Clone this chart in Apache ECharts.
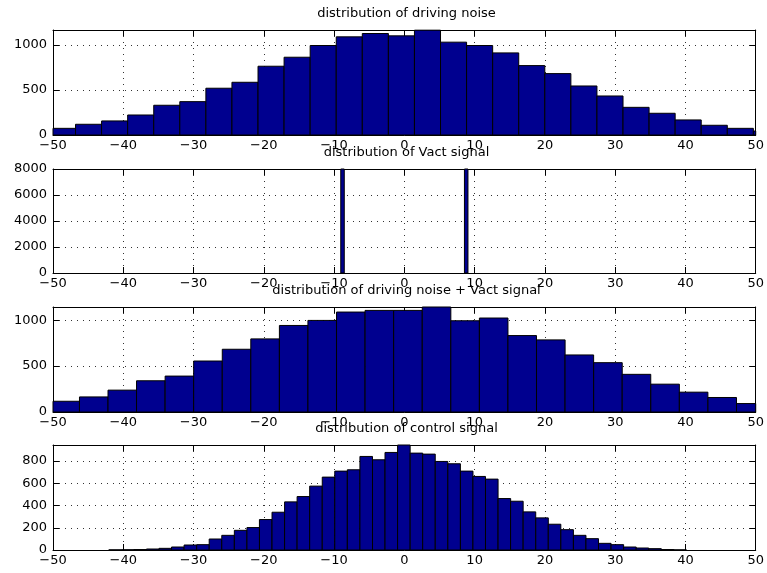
<!DOCTYPE html>
<html>
<head>
<meta charset="utf-8">
<script src="https://cdn.jsdelivr.net/npm/echarts@6/dist/echarts.min.js"></script>
<style>
  html, body { margin: 0; padding: 0; background: #fff; }
  #chart { width: 767px; height: 573px; }
</style>
</head>
<body>
<div id="chart"></div>
<script>
// ======================
// DATA (histogram bins)
// ======================

const xTicks = [-50, -40, -30, -20, -10, 0, 10, 20, 30, 40, 50];

// distribution of driving noise
const noiseBinWidth = 3.71;
const noiseCenters = [-48.65, -44.94, -41.23, -37.52, -33.81, -30.10, -26.39, -22.68, -18.97, -15.26,
    -11.55, -7.84, -4.13, -0.42, 3.29, 7.00, 10.71, 14.42, 18.13, 21.84,
    25.55, 29.26, 32.97, 36.68, 40.39, 44.10, 47.81, 51.52];
const noiseCounts = [74, 119, 156, 222, 330, 370, 519, 585, 763, 863,
    993, 1089, 1126, 1100, 1163, 1030, 993, 911, 770, 681,
    544, 433, 307, 241, 167, 108, 74, 44];

// distribution of Vact signal
const vactBinWidth = 0.5;
const vactCenters = [-8.8, 8.8];
const vactCounts = [8000, 8000];

// distribution of driving noise + Vact signal
const sumBinWidth = 4.065;
const sumCenters = [-48.27, -44.20, -40.14, -36.08, -32.01, -27.95, -23.88, -19.82, -15.75, -11.69,
    -7.62, -3.56, 0.51, 4.58, 8.64, 12.71, 16.77, 20.84, 24.90, 28.97,
    33.03, 37.10, 41.16, 45.23, 49.30];
const sumCounts = [117, 164, 238, 340, 391, 555, 683, 796, 942, 997,
    1088, 1106, 1106, 1143, 993, 1023, 832, 785, 621, 537,
    410, 303, 216, 158, 92];

// distribution of control signal
const ctrlBinWidth = 1.787;
const ctrlCenters = [-41.17, -39.38, -37.60, -35.81, -34.02, -32.24, -30.45, -28.66, -26.88, -25.09,
    -23.30, -21.51, -19.73, -17.94, -16.15, -14.37, -12.58, -10.79, -9.01, -7.22,
    -5.43, -3.64, -1.86, -0.07, 1.72, 3.50, 5.29, 7.08, 8.87, 10.65,
    12.44, 14.23, 16.01, 17.80, 19.59, 21.37, 23.16, 24.95, 26.73, 28.52,
    30.31, 32.10, 33.88, 35.67, 37.46, 39.24];
const ctrlCounts = [1, 2, 4, 9, 15, 27, 45, 48, 99, 132,
    177, 202, 274, 340, 433, 481, 575, 656, 710, 722,
    842, 812, 878, 945, 872, 863, 797, 776, 710, 662,
    638, 463, 439, 343, 289, 232, 183, 132, 102, 60,
    48, 27, 18, 12, 4, 1];

// ======================
// CONFIG
// ======================

const FONT = 'DejaVu Sans';
const BAR_FILL = '#00008f';

const panels = [
    { title: 'distribution of driving noise', centers: noiseCenters, counts: noiseCounts,
      binWidth: noiseBinWidth, yMax: 1165, yStep: 500, top: 30, height: 105 },
    { title: 'distribution of Vact signal', centers: vactCenters, counts: vactCounts,
      binWidth: vactBinWidth, yMax: 8000, yStep: 2000, top: 169, height: 104 },
    { title: 'distribution of driving noise + Vact signal', centers: sumCenters, counts: sumCounts,
      binWidth: sumBinWidth, yMax: 1143, yStep: 500, top: 307, height: 105 },
    { title: 'distribution of control signal', centers: ctrlCenters, counts: ctrlCounts,
      binWidth: ctrlBinWidth, yMax: 945, yStep: 200, top: 445, height: 105 }
];

const gridLeft = 53;
const gridRight = 7;

// ======================
// HELPERS
// ======================

function renderBin(binWidth) {
    return function (params, api) {
        const c = api.value(0);
        const v = api.value(1);
        const p0 = api.coord([c - binWidth / 2, v]);
        const p1 = api.coord([c + binWidth / 2, 0]);
        const cs = params.coordSys;
        const rect = echarts.graphic.clipRectByRect(
            { x: p0[0], y: p0[1], width: p1[0] - p0[0], height: p1[1] - p0[1] },
            { x: cs.x, y: cs.y, width: cs.width, height: cs.height }
        );
        return rect && {
            type: 'rect',
            shape: rect,
            style: { fill: BAR_FILL, stroke: '#000', lineWidth: 1 }
        };
    };
}

const minus = v => String(v).replace('-', '\u2212');
const dotted = { show: true, lineStyle: { color: '#333', type: [1, 5], width: 1 } };
const tickIn = { show: true, inside: true, length: 6, lineStyle: { color: '#000' } };
const lineBlack = { show: true, onZero: false, lineStyle: { color: '#000', width: 1 } };
const labelStyle = { color: '#000', fontFamily: FONT, fontSize: 13 };

// ======================
// OPTION BUILDER
// ======================

function buildOption() {
    const grid = [], xAxis = [], yAxis = [], series = [], graphic = [];

    panels.forEach((p, i) => {
        grid.push({ left: gridLeft, right: gridRight, top: p.top, height: p.height });

        // bottom / left axes carry labels and dotted grid
        xAxis.push({
            type: 'value', gridIndex: i, min: xTicks[0], max: xTicks[xTicks.length - 1], interval: 10,
            position: 'bottom', axisLine: lineBlack, axisTick: tickIn, splitLine: dotted,
            axisLabel: Object.assign({ margin: 4, formatter: minus }, labelStyle)
        });
        yAxis.push({
            type: 'value', gridIndex: i, min: 0, max: p.yMax, interval: p.yStep,
            position: 'left', axisLine: lineBlack, axisTick: tickIn, splitLine: dotted,
            axisLabel: Object.assign({
                margin: 6,
                formatter: v => (v % p.yStep === 0 ? String(v) : '')
            }, labelStyle)
        });

        // top / right axes only close the box with inward ticks
        xAxis.push({
            type: 'value', gridIndex: i, min: -50, max: 50, interval: 10, position: 'top',
            axisLine: lineBlack, axisTick: tickIn, splitLine: { show: false }, axisLabel: { show: false }
        });
        yAxis.push({
            type: 'value', gridIndex: i, min: 0, max: p.yMax, interval: p.yStep, position: 'right',
            axisLine: lineBlack, axisTick: tickIn, splitLine: { show: false }, axisLabel: { show: false }
        });

        series.push({
            type: 'custom',
            xAxisIndex: i * 2,
            yAxisIndex: i * 2,
            renderItem: renderBin(p.binWidth),
            encode: { x: 0, y: 1 },
            data: p.centers.map((c, k) => [c, p.counts[k]]),
            silent: true,
            z: 2
        });

        graphic.push({
            type: 'text',
            x: gridLeft + (767 - gridLeft - gridRight) / 2,
            y: p.top - 16,
            z: 10,
            style: {
                text: p.title,
                fill: '#000',
                font: '13px "' + FONT + '"',
                textAlign: 'center',
                textVerticalAlign: 'middle'
            }
        });
    });

    return { animation: false, backgroundColor: '#fff', grid, xAxis, yAxis, series, graphic };
}

// ======================
// INIT
// ======================

const chart = echarts.init(document.getElementById('chart'), null, { renderer: 'canvas' });
chart.setOption(buildOption());
</script>
</body>
</html>
